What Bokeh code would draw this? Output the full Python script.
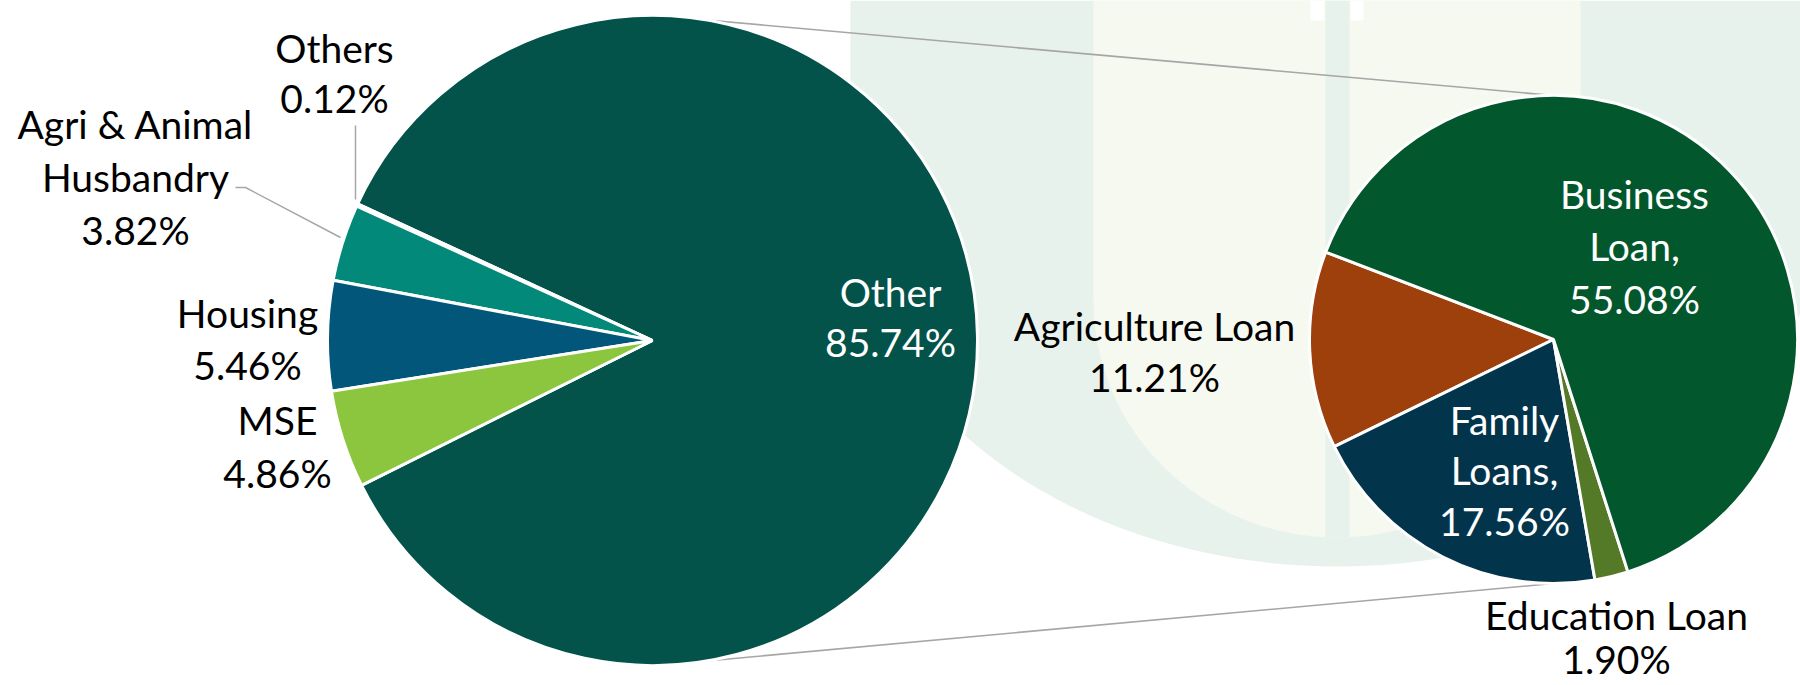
import math
import numpy as np
from bokeh.plotting import figure
from bokeh.models import Range1d
from bokeh.core.properties import value
from bokeh.embed import file_html
from bokeh.resources import INLINE

# ---------------- data ----------------
main_names = ["Other", "Others", "Agri & Animal Husbandry", "Housing", "MSE"]
main_values = [85.74, 0.12, 3.82, 5.46, 4.86]
main_colors = ["#03534a", "#2e7d6e", "#02897a", "#02567a", "#8cc63f"]

sub_names = ["Business Loan", "Agriculture Loan", "Family Loans", "Education Loan"]
sub_values = [55.08, 11.21, 17.56, 1.90]
sub_colors = ["#03572d", "#9d400c", "#02354c", "#557a27"]

# ---------------- layout ----------------
W, H = 1800, 685
FONT = "Lato"
FS = "39px"
DY = -16  # text baseline correction


def Y(y):
    return H - y


p = figure(width=W, height=H, output_backend="svg", toolbar_location=None,
           x_range=Range1d(0, W), y_range=Range1d(0, H), min_border=0)
p.axis.visible = False
p.grid.visible = False
p.outline_line_color = None
p.background_fill_color = "white"
p.border_fill_color = "white"

# ---- faint background logo ----
def u_shape(x0, x1, y_top, y_curve, y_bottom, n=80):
    cx = (x0 + x1) / 2
    rx = (x1 - x0) / 2
    ry = y_bottom - y_curve
    t = np.linspace(math.pi, 0, n)
    xs = [x0] + list(cx + rx * np.cos(t)) + [x1]
    ys = [y_top] + list(y_curve + ry * np.sin(t)) + [y_top]
    return xs, [Y(v) for v in ys]

ox, oy = u_shape(850, 1824, 0, 198, 566)
p.patch(ox, oy, fill_color="#e8f2ec", line_color=None)
ix, iy = u_shape(1093, 1580, 0, 300, 537)
p.patch(ix, iy, fill_color="#f6f9ef", line_color=None)
p.quad(left=[1325], right=[1349], top=[Y(0)], bottom=[Y(537)],
       fill_color="#e8f2ec", line_color=None)
p.quad(left=[1310, 1350], right=[1324, 1363], top=[Y(0), Y(0)], bottom=[Y(20), Y(20)],
       fill_color="white", line_color=None)

# ---- pies geometry ----
LCX, LCY, LR = 652, 340, 325
RCX, RCY, RR = 1553, 339, 244

# connector lines (behind pies)
a = math.radians(80.4)
p.line([LCX + LR * math.cos(a), RCX], [Y(LCY - LR * math.sin(a)), Y(RCY - RR)],
       line_color="#a6a6a6", line_width=1.6)
p.line([LCX + LR * math.cos(a), RCX], [Y(LCY + LR * math.sin(a)), Y(RCY + RR)],
       line_color="#a6a6a6", line_width=1.6)

# left pie: small slices grouped on the left, centred near 180.8 deg
tot = sum(main_values)
small = sum(main_values[1:])
start = math.radians(180.8) - 2 * math.pi * small / tot / 2
starts, ends = [], []
cur = start
for v in main_values[1:]:
    ang = 2 * math.pi * v / tot
    starts.append(cur)
    ends.append(cur + ang)
    cur += ang
big_start, big_end = cur, start + 2 * math.pi
p.wedge(x=[LCX] * 5, y=[Y(LCY)] * 5, radius=LR,
        start_angle=[big_start] + starts, end_angle=[big_end] + ends,
        fill_color=main_colors, line_color="white", line_width=3)

# right pie
stot = sum(sub_values)
order = [1, 2, 3, 0]  # agriculture, family, education, business (counter-clockwise)
cur = math.radians(159)
s_st, s_en, s_col = [], [], []
for i in order:
    ang = 2 * math.pi * sub_values[i] / stot
    s_st.append(cur)
    s_en.append(cur + ang)
    s_col.append(sub_colors[i])
    cur += ang
p.wedge(x=[RCX] * 4, y=[Y(RCY)] * 4, radius=RR,
        start_angle=s_st, end_angle=s_en,
        fill_color=s_col, line_color="white", line_width=3)

# leader lines
p.line([355, 355], [Y(125), Y(199)], line_color="#a6a6a6", line_width=1.5)
p.line([235, 245, 340], [Y(187), Y(187), Y(237)], line_color="#a6a6a6", line_width=1.5)


def pct(v):
    return f"{v:.2f}%"


def label(lines, x, baselines, color):
    p.text(x=[x] * len(lines), y=[Y(b + DY) for b in baselines], text=lines,
           text_font=value(FONT), text_font_size=FS, text_color=color,
           text_align="center", text_baseline="alphabetic")

# left pie labels
label(["Other", pct(main_values[0])], 890, [307, 357], "white")
label(["Others", pct(main_values[1])], 334, [63, 113], "black")
label(["Agri & Animal", "Husbandry", pct(main_values[2])], 135, [139, 192, 245], "black")
label(["Housing", pct(main_values[3])], 247, [328, 380], "black")
label(["MSE", pct(main_values[4])], 277, [435, 488], "black")

# right pie labels
label(["Business", "Loan,", pct(sub_values[0])], 1634, [209, 261, 314], "white")
label(["Agriculture Loan", pct(sub_values[1])], 1154, [341, 392], "black")
label(["Family", "Loans,", pct(sub_values[2])], 1504, [435, 485, 536], "white")
label(["Education Loan", pct(sub_values[3])], 1616, [630, 674], "black")

open("out.html", "w").write(file_html(p, INLINE))
